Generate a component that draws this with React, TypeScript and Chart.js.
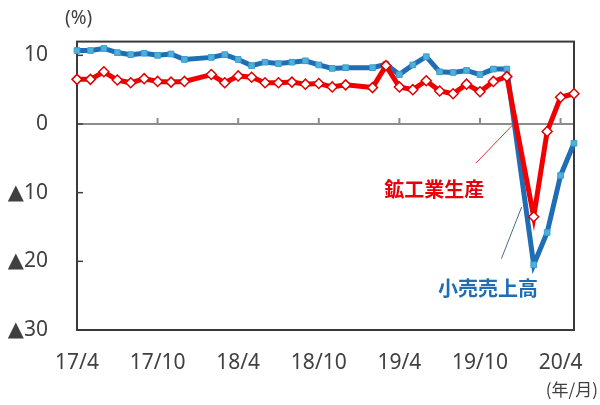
import React, { useEffect, useRef } from "react";
import { Chart, registerables } from "chart.js";

Chart.register(...registerables);

// Months (year/month), Jan values are not published separately (null)
const labels = [
  "17/4", "17/5", "17/6", "17/7", "17/8", "17/9", "17/10", "17/11", "17/12",
  "18/1", "18/2", "18/3", "18/4", "18/5", "18/6", "18/7", "18/8", "18/9", "18/10", "18/11", "18/12",
  "19/1", "19/2", "19/3", "19/4", "19/5", "19/6", "19/7", "19/8", "19/9", "19/10", "19/11", "19/12",
  "20/1", "20/2", "20/3", "20/4", "20/5",
];

// 鉱工業生産 (%)
const industrial = [
  6.5, 6.5, 7.6, 6.4, 6.0, 6.6, 6.2, 6.1, 6.2,
  null, 7.2, 6.0, 7.0, 6.8, 6.0, 6.0, 6.1, 5.8, 5.9, 5.4, 5.7,
  null, 5.3, 8.5, 5.4, 5.0, 6.3, 4.8, 4.4, 5.8, 4.7, 6.2, 6.9,
  null, -13.5, -1.1, 3.9, 4.4,
];

// 小売売上高 (%)
const retail = [
  10.7, 10.7, 11.0, 10.4, 10.1, 10.3, 10.0, 10.2, 9.4,
  null, 9.7, 10.1, 9.4, 8.5, 9.0, 8.8, 9.0, 9.2, 8.6, 8.1, 8.2,
  null, 8.2, 8.7, 7.2, 8.6, 9.8, 7.6, 7.5, 7.8, 7.2, 8.0, 8.0,
  null, -20.5, -15.8, -7.5, -2.8,
];

const yTickValues = [10, 0, -10, -20, -30];
const xTickMonths = ["4", "10"];

const TEXT = "#404040";
const RED = "#f00000";
const BLUE = "#1f6db4";
const FONT = "'Noto Sans', 'DejaVu Sans', 'Noto Sans CJK JP', sans-serif";
const CJK = "'Noto Sans CJK JP', sans-serif";

const fmtY = (v: number) => (v < 0 ? "▲" + Math.abs(v) : String(v));
const isMajor = (l: string) => xTickMonths.includes(l.split("/")[1]);

export default function App() {
  const ref = useRef<HTMLCanvasElement>(null);

  useEffect(() => {
    const canvas = ref.current;
    if (!canvas) return;

    const decor = {
      id: "decor",
      beforeDatasetsDraw(chart: any) {
        const { ctx, chartArea: a, scales } = chart;
        const xs = scales.x;
        const ys = scales.y;
        ctx.save();
        // inward ticks on the y axis
        ctx.strokeStyle = TEXT;
        ctx.lineWidth = 1.5;
        yTickValues.forEach((v) => {
          const y = ys.getPixelForValue(v);
          ctx.beginPath();
          ctx.moveTo(a.left, y);
          ctx.lineTo(a.left + 6, y);
          ctx.stroke();
        });
        // ticks on the zero line
        ctx.strokeStyle = "#8c8c8c";
        ctx.lineWidth = 2;
        const y0 = ys.getPixelForValue(0);
        labels.forEach((l, i) => {
          if (!isMajor(l) || i === 0) return;
          const x = xs.getPixelForValue(i);
          ctx.beginPath();
          ctx.moveTo(x, y0);
          ctx.lineTo(x, y0 - 6);
          ctx.stroke();
        });
        // box
        ctx.strokeStyle = "#3a3a3a";
        ctx.lineWidth = 2;
        ctx.strokeRect(a.left, a.top, a.right - a.left, a.bottom - a.top);
        ctx.restore();
      },
      afterDatasetsDraw(chart: any) {
        const { ctx, scales } = chart;
        const xs = scales.x;
        const ys = scales.y;
        const P = (i: number, v: number) => [xs.getPixelForValue(i), ys.getPixelForValue(v)];
        ctx.save();
        // leader lines
        ctx.lineWidth = 1;
        ctx.strokeStyle = "#d23a3a";
        let p1 = P(29.7, -5.7), p2 = P(32.5, 0);
        ctx.beginPath(); ctx.moveTo(p1[0], p1[1]); ctx.lineTo(p2[0], p2[1]); ctx.stroke();
        ctx.strokeStyle = "#4a6a8c";
        p1 = P(31.6, -19.6); p2 = P(33.1, -12.1);
        ctx.beginPath(); ctx.moveTo(p1[0], p1[1]); ctx.lineTo(p2[0], p2[1]); ctx.stroke();
        // series labels
        ctx.font = `bold 20px ${CJK}`;
        ctx.textAlign = "center";
        ctx.textBaseline = "middle";
        ctx.fillStyle = "#e8000b";
        let t = P(26.6, -9.5);
        ctx.fillText("鉱工業生産", t[0], t[1]);
        ctx.fillStyle = "#1f6db4";
        t = P(30.6, -23.9);
        ctx.fillText("小売売上高", t[0], t[1]);
        ctx.restore();
      },
      afterDraw(chart: any) {
        const { ctx, chartArea: a } = chart;
        ctx.save();
        ctx.fillStyle = TEXT;
        ctx.textBaseline = "middle";
        ctx.font = `19px ${FONT}`;
        ctx.textAlign = "left";
        ctx.fillText("(%)", a.left - 12, 19);
        ctx.font = `17px ${CJK}`;
        ctx.textAlign = "right";
        ctx.fillText("(年/月)", 598, 390);
        ctx.restore();
      },
    };

    const chart = new Chart(canvas, {
      type: "line",
      data: {
        labels,
        datasets: [
          {
            label: "鉱工業生産",
            data: industrial,
            borderColor: RED,
            borderWidth: 5,
            pointStyle: "rectRot",
            pointRadius: 5,
            pointBackgroundColor: "#ffffff",
            pointBorderColor: "#e00000",
            pointBorderWidth: 1.5,
            spanGaps: true,
            tension: 0,
          },
          {
            label: "小売売上高",
            data: retail,
            borderColor: BLUE,
            borderWidth: 5,
            pointStyle: "rect",
            pointRadius: 4,
            pointBackgroundColor: "#4fb0d8",
            pointBorderColor: "#3a9fcc",
            pointBorderWidth: 1,
            spanGaps: true,
            tension: 0,
          },
        ],
      },
      options: {
        responsive: false,
        animation: false,
        layout: { padding: { top: 39, right: 26, left: 0, bottom: 0 } },
        plugins: {
          legend: { display: false },
          tooltip: { enabled: false },
        },
        scales: {
          x: {
            grid: { display: false },
            border: { display: false },
            ticks: {
              autoSkip: false,
              maxRotation: 0,
              minRotation: 0,
              padding: 12,
              color: TEXT,
              font: { family: FONT, size: 21 },
              callback: (_v: any, i: number) => (isMajor(labels[i]) ? labels[i] : ""),
            },
            afterFit: (s: any) => {
              s.height = 75;
            },
          },
          y: {
            min: -30,
            max: 12,
            afterBuildTicks: (s: any) => {
              s.ticks = yTickValues.map((v) => ({ value: v }));
            },
            grid: {
              drawTicks: false,
              lineWidth: 2,
              color: (c: any) => (c.tick && c.tick.value === 0 ? "#8c8c8c" : "rgba(0,0,0,0)"),
            },
            border: { display: false },
            ticks: {
              padding: 29,
              color: TEXT,
              font: { family: FONT, size: 21 },
              callback: (v: any) => fmtY(Number(v)),
            },
            afterFit: (s: any) => {
              s.width = 77;
            },
          },
        },
      },
      plugins: [decor],
    } as any);

    return () => chart.destroy();
  }, []);

  return (
    <div style={{ position: "absolute", left: 0, top: 0, width: 600, height: 405, background: "#fff" }}>
      <canvas ref={ref} width={600} height={405} style={{ display: "block" }} />
    </div>
  );
}
